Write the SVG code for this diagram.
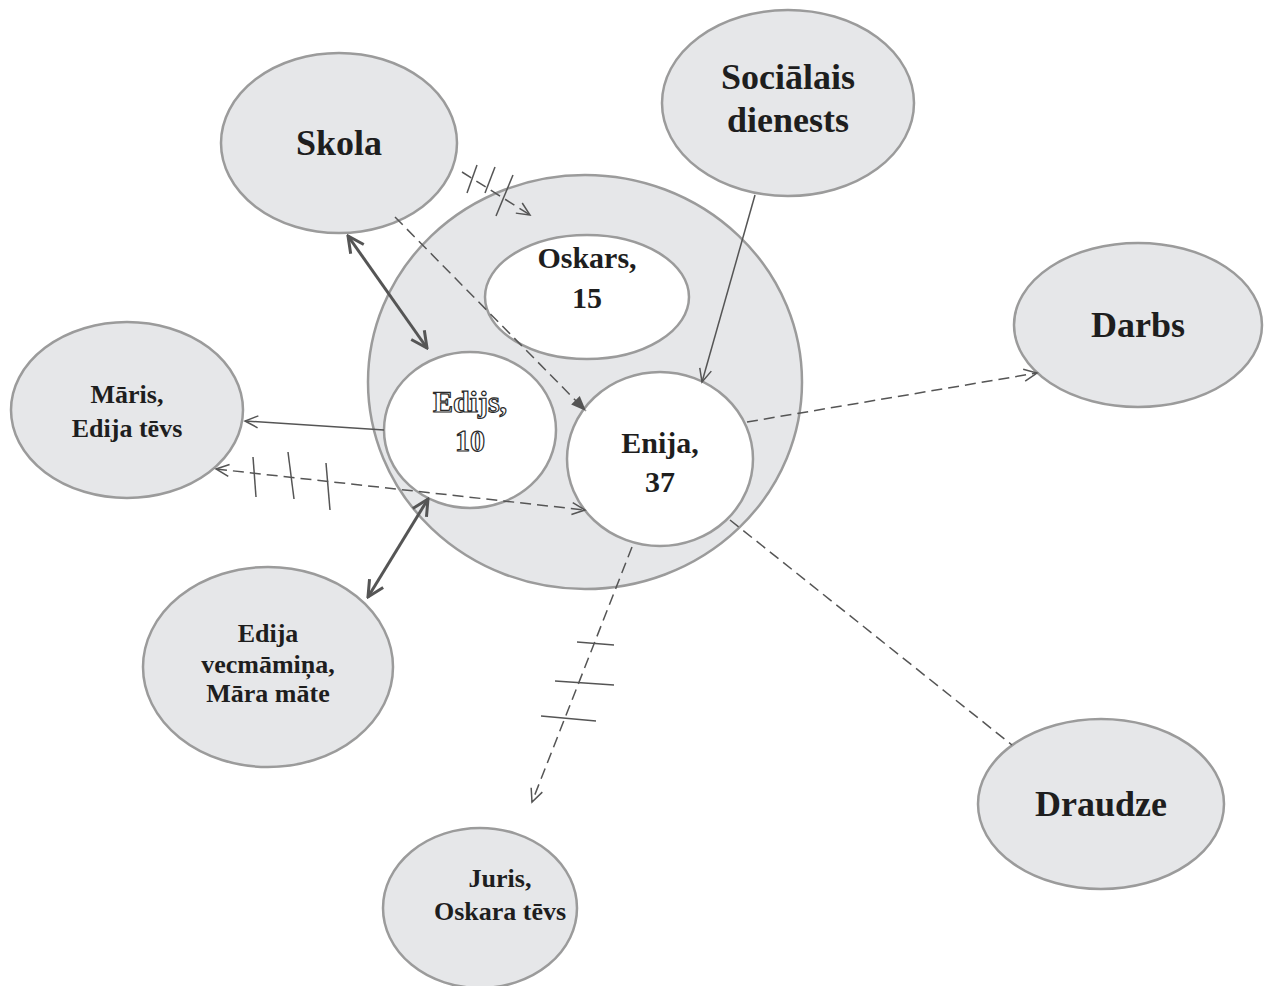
<svg xmlns="http://www.w3.org/2000/svg" width="1269" height="986" viewBox="0 0 1269 986">
  <style>
    .outer { fill: #e6e7e9; stroke: #9b9b9b; stroke-width: 2.5; }
    .inner { fill: #ffffff; stroke: #9b9b9b; stroke-width: 2.5; }
    .lbl { font-family: "Liberation Serif", "Times New Roman", serif; font-weight: bold; fill: #1e1e1e; text-anchor: middle; }
    .big { font-size: 36px; }
    .mid { font-size: 30px; }
    .small { font-size: 26px; }
    .hollow { fill: #ffffff; stroke: #2a2a2a; stroke-width: 1.2; text-rendering: geometricPrecision; }
    .thin { fill: none; stroke: #555; stroke-width: 1.5; }
    .thick { fill: none; stroke: #555; stroke-width: 3; }
    .dash { stroke-dasharray: 11 6; }
    .tick { fill: none; stroke: #555; stroke-width: 1.5; }
  </style>
  <defs>
    <marker id="open" viewBox="-14 -8 16 16" refX="0" refY="0" markerWidth="16" markerHeight="16" markerUnits="userSpaceOnUse" orient="auto-start-reverse">
      <path d="M-13,-6 L0,0 L-13,6" fill="none" stroke="#555" stroke-width="1.5"/>
    </marker>
    <marker id="openThick" viewBox="-20 -11 22 22" refX="0" refY="0" markerWidth="22" markerHeight="22" markerUnits="userSpaceOnUse" orient="auto-start-reverse">
      <path d="M-16,-8 L0,0 L-16,8" fill="none" stroke="#555" stroke-width="3"/>
    </marker>
    <marker id="solid" viewBox="-16 -8 18 16" refX="0" refY="0" markerWidth="18" markerHeight="16" markerUnits="userSpaceOnUse" orient="auto">
      <path d="M-15,-6 L0,0 L-15,6 Z" fill="#555"/>
    </marker>
  </defs>

  <!-- household circle with its members -->
  <g id="household">
    <ellipse class="outer" cx="585" cy="382" rx="217" ry="207"/>
  </g>
  <g id="oskars">
    <ellipse class="inner" cx="587" cy="297" rx="102" ry="62"/>
    <text class="lbl mid" x="587" y="268">Oskars,</text>
    <text class="lbl mid" x="587" y="308">15</text>
  </g>
  <g id="edijs">
    <ellipse class="inner" cx="470" cy="430" rx="86" ry="78"/>
    <text class="lbl mid hollow" x="470" y="412">Edijs,</text>
    <text class="lbl mid hollow" x="470" y="451">10</text>
  </g>
  <g id="enija">
    <ellipse class="inner" cx="660" cy="459" rx="93" ry="87"/>
    <text class="lbl mid" x="660" y="453">Enija,</text>
    <text class="lbl mid" x="660" y="492">37</text>
  </g>

  <!-- surrounding systems -->
  <g id="skola">
    <ellipse class="outer" cx="339" cy="143" rx="118" ry="90"/>
    <text class="lbl big" x="339" y="155">Skola</text>
  </g>
  <g id="socialais-dienests">
    <ellipse class="outer" cx="788" cy="103" rx="126" ry="93"/>
    <text class="lbl big" x="788" y="89">Sociālais</text>
    <text class="lbl big" x="788" y="132">dienests</text>
  </g>
  <g id="darbs">
    <ellipse class="outer" cx="1138" cy="325" rx="124" ry="82"/>
    <text class="lbl big" x="1138" y="337">Darbs</text>
  </g>
  <g id="maris">
    <ellipse class="outer" cx="127" cy="410" rx="116" ry="88"/>
    <text class="lbl small" x="127" y="403">Māris,</text>
    <text class="lbl small" x="127" y="437">Edija tēvs</text>
  </g>
  <g id="vecmamina">
    <ellipse class="outer" cx="268" cy="667" rx="125" ry="100"/>
    <text class="lbl small" x="268" y="642">Edija</text>
    <text class="lbl small" x="268" y="673">vecmāmiņa,</text>
    <text class="lbl small" x="268" y="702">Māra māte</text>
  </g>
  <g id="juris">
    <ellipse class="outer" cx="480" cy="908" rx="97" ry="80"/>
    <text class="lbl small" x="500" y="887">Juris,</text>
    <text class="lbl small" x="500" y="920">Oskara tēvs</text>
  </g>
  <g id="draudze">
    <ellipse class="outer" cx="1101" cy="804" rx="123" ry="85"/>
    <text class="lbl big" x="1101" y="816">Draudze</text>
  </g>

  <!-- relationships -->
  <g id="connectors">
    <!-- Skola -> Oskars, conflicted -->
    <line class="thin dash" x1="462" y1="172" x2="530" y2="215" marker-end="url(#open)"/>
    <line class="tick" x1="477" y1="165" x2="467" y2="193"/>
    <line class="tick" x1="495" y1="167" x2="485" y2="193"/>
    <line class="tick" x1="513" y1="175" x2="496" y2="216"/>
    <!-- Skola -> Enija -->
    <line class="thin dash" x1="395" y1="217" x2="586" y2="411" marker-end="url(#solid)"/>
    <!-- Skola <-> Edijs, strong -->
    <line class="thick" x1="348" y1="236" x2="427" y2="348" marker-start="url(#openThick)" marker-end="url(#openThick)"/>
    <!-- Edijs -> Māris -->
    <line class="thin" x1="384" y1="430" x2="245" y2="421" marker-end="url(#open)"/>
    <!-- Māris <-> Enija, conflicted -->
    <line class="thin dash" x1="216" y1="469" x2="585" y2="510" marker-start="url(#open)" marker-end="url(#open)"/>
    <line class="tick" x1="253" y1="457" x2="256" y2="497"/>
    <line class="tick" x1="288" y1="452" x2="294" y2="499"/>
    <line class="tick" x1="326" y1="463" x2="330" y2="510"/>
    <!-- Edijs <-> vecmāmiņa, strong -->
    <line class="thick" x1="428" y1="499" x2="368" y2="597" marker-start="url(#openThick)" marker-end="url(#openThick)"/>
    <!-- Sociālais dienests -> Enija -->
    <line class="thin" x1="755" y1="195" x2="702" y2="382" marker-end="url(#open)"/>
    <!-- Enija -> Darbs -->
    <line class="thin dash" x1="747" y1="422" x2="1037" y2="373" marker-end="url(#open)"/>
    <!-- Enija - Draudze -->
    <line class="thin dash" x1="730" y1="520" x2="1012" y2="745"/>
    <!-- Enija -> Juris, conflicted -->
    <line class="thin dash" x1="632" y1="547" x2="532" y2="802" marker-end="url(#open)"/>
    <line class="tick" x1="577" y1="642" x2="614" y2="645"/>
    <line class="tick" x1="555" y1="681" x2="614" y2="685"/>
    <line class="tick" x1="541" y1="716" x2="596" y2="721"/>
  </g>
</svg>
